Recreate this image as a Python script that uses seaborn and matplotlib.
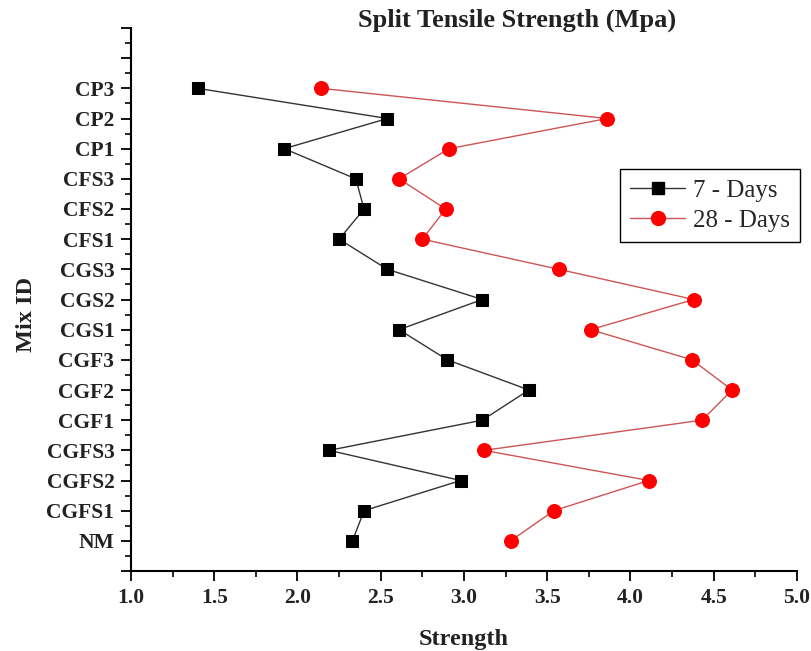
import matplotlib
matplotlib.use("Agg")
import matplotlib.pyplot as plt
import seaborn as sns
import pandas as pd
from matplotlib.ticker import MultipleLocator, FixedLocator
from matplotlib.lines import Line2D

mix_ids = ["NM", "CGFS1", "CGFS2", "CGFS3", "CGF1", "CGF2", "CGF3",
           "CGS1", "CGS2", "CGS3", "CFS1", "CFS2", "CFS3", "CP1", "CP2", "CP3"]
days7 = [2.33, 2.40, 2.98, 2.19, 3.11, 3.39, 2.90,
         2.61, 3.11, 2.54, 2.25, 2.40, 2.35, 1.92, 2.54, 1.40]
days28 = [3.28, 3.54, 4.11, 3.12, 4.43, 4.61, 4.37,
          3.76, 4.38, 3.57, 2.75, 2.89, 2.61, 2.91, 3.86, 2.14]

positions = list(range(1, len(mix_ids) + 1))
df7 = pd.DataFrame({"pos": positions, "Strength": days7})
df28 = pd.DataFrame({"pos": positions, "Strength": days28})

sns.set_theme(style="white")
plt.rcParams["font.family"] = ["Liberation Serif", "DejaVu Serif"]

fig = plt.figure(figsize=(8.12, 6.51), dpi=100)
ax = fig.add_axes([131 / 812, 1 - 571 / 651, (797 - 131) / 812, (571 - 28) / 651])

sns.lineplot(data=df7, x="Strength", y="pos", sort=False, estimator=None,
             color="#333333", linewidth=1.0, marker="s", markersize=9,
             markeredgecolor="black", markerfacecolor="black", ax=ax)
sns.lineplot(data=df28, x="Strength", y="pos", sort=False, estimator=None,
             color="#cc5555", linewidth=1.0, marker="o", markersize=10,
             markeredgecolor="red", markerfacecolor="red", ax=ax)

ax.set_xlim(1.0, 5.0)
ax.set_ylim(0, 18)
ax.xaxis.set_major_locator(MultipleLocator(0.5))
ax.xaxis.set_minor_locator(MultipleLocator(0.25))
ax.set_xticklabels([f"{v:.1f}" for v in ax.get_xticks()])
ax.yaxis.set_major_locator(FixedLocator(list(range(0, 19))))
ax.yaxis.set_minor_locator(MultipleLocator(0.5))
ax.set_yticklabels([""] + mix_ids + ["", ""])

for sp in ["top", "right"]:
    ax.spines[sp].set_visible(False)
for sp in ["left", "bottom"]:
    ax.spines[sp].set_color("black")
    ax.spines[sp].set_linewidth(1.5)

ax.tick_params(axis="both", which="major", direction="out", length=7, width=1.3,
               color="black", labelsize=15.5, pad=5, left=True, bottom=True)
ax.tick_params(axis="both", which="minor", direction="out", length=4, width=1.2,
               color="black", left=True, bottom=True)
for lab in ax.get_xticklabels() + ax.get_yticklabels():
    lab.set_fontweight("bold")
    lab.set_color("#222222")

ax.set_xlabel("Strength", fontsize=17.5, fontweight="bold", labelpad=15, color="#222222")
ax.set_ylabel("")
fig.text(27 / 812, 1 - 315 / 651, "Mix ID", rotation=90, fontsize=17.5,
         fontweight="bold", ha="center", va="center", color="#222222")
fig.text(517 / 812, 1 - 20 / 651, "Split Tensile Strength (Mpa)", fontsize=19,
         fontweight="bold", ha="center", va="center", color="#222222")

handles = [
    Line2D([], [], color="#333333", linewidth=1.0, marker="s", markersize=9,
           markerfacecolor="black", markeredgecolor="black"),
    Line2D([], [], color="#cc5555", linewidth=1.0, marker="o", markersize=10,
           markerfacecolor="red", markeredgecolor="red"),
]
leg = fig.legend(handles, ["7 - Days", "28 - Days"], loc="upper right",
                 bbox_to_anchor=(800 / 812, 1 - 169 / 651), fontsize=18,
                 frameon=True, fancybox=False, edgecolor="black", framealpha=1,
                 handlelength=2.2, handletextpad=0.3, borderpad=0.4,
                 labelspacing=0.3, borderaxespad=0)
leg.get_frame().set_linewidth(1.0)

fig.savefig("out.png", dpi=100)
